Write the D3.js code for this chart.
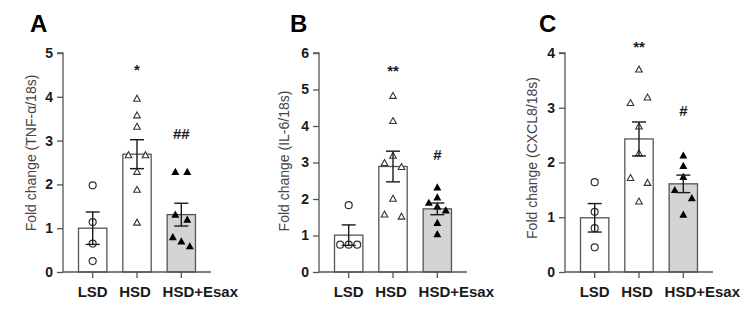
<!DOCTYPE html>
<html>
<head>
<meta charset="utf-8">
<script src="https://cdn.jsdelivr.net/npm/d3@7"></script>
<style>
  html, body { margin: 0; padding: 0; background: #fff; }
  svg { display: block; font-family: "Liberation Sans", Arial, sans-serif; }
</style>
</head>
<body>
<svg id="chart" width="747" height="314"></svg>
<script>
// ---------------- DATA ----------------
const categories = ["LSD", "HSD", "HSD+Esax"];
const panelLetters = ["A", "B", "C"];
const yTitles = ["Fold change (TNF-α/18s)", "Fold change (IL-6/18s)", "Fold change (CXCL8/18s)"];
const yMaxes = [5, 6, 4];
const yTickValues = [[0, 1, 2, 3, 4, 5], [0, 1, 2, 3, 4, 5, 6], [0, 1, 2, 3, 4]];

// means and SEM per panel (LSD, HSD, HSD+Esax)
const meansA = [1.00, 2.69, 1.31];
const semA   = [0.37, 0.33, 0.26];
const meansB = [1.01, 2.89, 1.73];
const semB   = [0.28, 0.42, 0.16];
const meansC = [0.99, 2.43, 1.61];
const semC   = [0.26, 0.31, 0.16];

// individual points: values, and side slot (-1 left, 0 centre, 1 right)
const pointsA_LSD  = [1.98, 1.14, 0.65, 0.25];
const slotsA_LSD   = [0, 0, 0, 0];
const pointsA_HSD  = [3.96, 3.58, 3.32, 2.67, 2.67, 2.29, 1.88, 1.13];
const slotsA_HSD   = [0, 0, 0, -1, 1, 0, 0, 0];
const pointsA_ESAX = [2.29, 2.29, 1.31, 1.20, 0.80, 0.70, 0.59];
const slotsA_ESAX  = [-0.7, 0.7, -0.7, 0.7, -1, 0, 1];

const pointsB_LSD  = [1.83, 0.75, 0.75, 0.75];
const slotsB_LSD   = [0, -1, 0, 1];
const pointsB_HSD  = [4.83, 4.14, 3.19, 2.99, 2.88, 2.01, 1.58, 1.52];
const slotsB_HSD   = [0, 0, 0, -1, 1, 0, -1, 1];
const pointsB_ESAX = [2.32, 2.05, 1.90, 1.80, 1.69, 1.35, 1.04];
const slotsB_ESAX  = [0, 0, -1, 0, 1, 0, 0];

const pointsC_LSD  = [1.64, 1.10, 0.80, 0.45];
const slotsC_LSD   = [0, 0, 0, 0];
const pointsC_HSD  = [3.70, 3.19, 3.09, 2.66, 2.17, 1.72, 1.63, 1.29];
const slotsC_HSD   = [0, 1, -1, 0, 0, -1, 1, 0];
const pointsC_ESAX = [2.13, 1.94, 1.74, 1.50, 1.35, 1.05];
const slotsC_ESAX  = [0, 0, 0, -1, 1, 0];

// significance labels (text, group index, y value)
const sigA = [["*", 1, 4.70], ["##", 2, 3.15]];
const sigB = [["**", 1, 5.62], ["#", 2, 3.22]];
const sigC = [["**", 1, 4.18], ["#", 2, 2.95]];

const panels = [
  { means: meansA, sem: semA, pts: [pointsA_LSD, pointsA_HSD, pointsA_ESAX], slots: [slotsA_LSD, slotsA_HSD, slotsA_ESAX], sig: sigA },
  { means: meansB, sem: semB, pts: [pointsB_LSD, pointsB_HSD, pointsB_ESAX], slots: [slotsB_LSD, slotsB_HSD, slotsB_ESAX], sig: sigB },
  { means: meansC, sem: semC, pts: [pointsC_LSD, pointsC_HSD, pointsC_ESAX], slots: [slotsC_LSD, slotsC_HSD, slotsC_ESAX], sig: sigC }
];

// ---------------- LAYOUT ----------------
const axisXs = [63, 319, 565];
const letterXs = [30, 290, 539];
const titleCenters = [153, 161, 158];
const titleOffsets = [32, 35, 33];
const labelShifts = [0, -2, 19];
const yTop = 53, yBottom = 272, plotW = 148;
const fills = ["#ffffff", "#ffffff", "#d4d4d4"];
const axisColor = "#555";
const darkColor = "#1a1a1a";

const svg = d3.select("#chart");

panels.forEach((p, pi) => {
  const g = svg.append("g").attr("transform", `translate(${axisXs[pi]},0)`);
  const x = d3.scaleBand().domain(categories).range([0, plotW]).paddingInner(0.36).paddingOuter(0.35);
  const y = d3.scaleLinear().domain([0, yMaxes[pi]]).range([yBottom, yTop]);

  // panel letter
  svg.append("text").attr("x", letterXs[pi]).attr("y", 32)
    .attr("font-size", 24).attr("font-weight", "bold").attr("fill", "#000")
    .text(panelLetters[pi]);

  // y title
  g.append("text")
    .attr("transform", `translate(${-titleOffsets[pi]},${titleCenters[pi]}) rotate(-90)`)
    .attr("text-anchor", "middle").attr("dominant-baseline", "central")
    .attr("font-size", 14).attr("fill", "#444")
    .text(yTitles[pi]);

  // bars
  g.selectAll("rect.bar").data(categories).enter().append("rect")
    .attr("x", d => x(d)).attr("width", x.bandwidth())
    .attr("y", (d, i) => y(p.means[i]))
    .attr("height", (d, i) => y(0) - y(p.means[i]))
    .attr("fill", (d, i) => fills[i])
    .attr("stroke", axisColor).attr("stroke-width", 1.3);

  // points
  categories.forEach((c, ci) => {
    const cx = x(c) + x.bandwidth() / 2;
    const vals = p.pts[ci], slots = p.slots[ci];
    vals.forEach((v, k) => {
      const px = cx + slots[k] * 8.5, py = y(v);
      if (ci === 0) {
        g.append("circle").attr("cx", px).attr("cy", py).attr("r", 3.5)
          .attr("fill", "#fff").attr("stroke", "#333").attr("stroke-width", 1.2);
      } else if (ci === 1) {
        const s = 3.3;
        g.append("path")
          .attr("d", `M${px},${py - s}L${px + s},${py + s * 0.8}L${px - s},${py + s * 0.8}Z`)
          .attr("fill", "#fff").attr("stroke", "#333").attr("stroke-width", 1.1);
      } else {
        const s = 4;
        g.append("path")
          .attr("d", `M${px},${py - s}L${px + s},${py + s * 0.8}L${px - s},${py + s * 0.8}Z`)
          .attr("fill", "#000");
      }
    });
  });

  // error bars
  categories.forEach((c, ci) => {
    const cx = x(c) + x.bandwidth() / 2;
    const lo = y(p.means[ci] - p.sem[ci]), hi = y(p.means[ci] + p.sem[ci]);
    const eg = g.append("g").attr("stroke", darkColor).attr("stroke-width", 1.4);
    eg.append("line").attr("x1", cx).attr("x2", cx).attr("y1", lo).attr("y2", hi);
    eg.append("line").attr("x1", cx - 7).attr("x2", cx + 7).attr("y1", hi).attr("y2", hi);
    eg.append("line").attr("x1", cx - 7).attr("x2", cx + 7).attr("y1", lo).attr("y2", lo);
  });

  // y axis
  const yAxis = g.append("g").call(d3.axisLeft(y).tickValues(yTickValues[pi]).tickFormat(d3.format("d")).tickSize(6).tickPadding(4));
  yAxis.select(".domain").attr("stroke", axisColor).attr("stroke-width", 1.3).attr("d", `M-6,${yTop}H0V${yBottom}`);
  yAxis.selectAll(".tick line").attr("stroke", axisColor).attr("stroke-width", 1.3);
  yAxis.selectAll(".tick text").attr("font-size", 14).attr("font-weight", "bold").attr("fill", darkColor)
    .attr("font-family", "Liberation Sans, Arial, sans-serif");

  // x axis
  const xAxis = g.append("g").attr("transform", `translate(0,${yBottom})`)
    .call(d3.axisBottom(x).tickSize(6).tickPadding(8).tickSizeOuter(0));
  xAxis.select(".domain").attr("stroke", axisColor).attr("stroke-width", 1.3).attr("d", `M0,0H${plotW}`);
  xAxis.selectAll(".tick line").attr("stroke", axisColor).attr("stroke-width", 1.3);
  xAxis.selectAll(".tick text").attr("font-size", 15).attr("font-weight", "bold").attr("fill", darkColor)
    .attr("font-family", "Liberation Sans, Arial, sans-serif")
    .attr("x", (d, i) => labelShifts[i]);

  // significance labels
  p.sig.forEach(([txt, gi, yv]) => {
    const cx = x(categories[gi]) + x.bandwidth() / 2;
    const fs = 15;
    const base = y(yv) + (txt[0] === "*" ? 0.6 * fs : 0.36 * fs);
    g.append("text").attr("x", cx).attr("y", base).attr("text-anchor", "middle")
      .attr("font-size", fs).attr("font-weight", "bold").attr("fill", darkColor).text(txt);
  });
});
</script>
</body>
</html>
